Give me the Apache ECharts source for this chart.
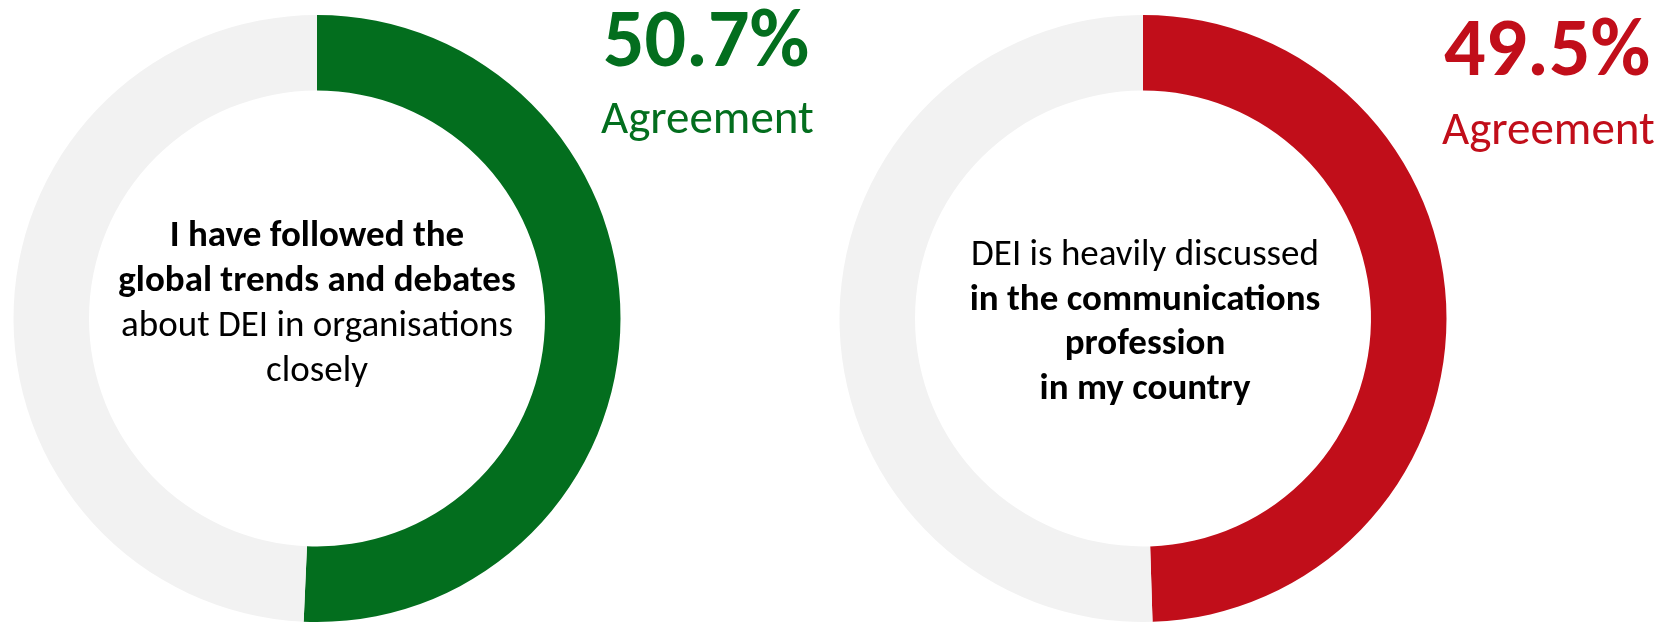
<!DOCTYPE html>
<html>
<head>
<meta charset="utf-8">
<script src="https://cdn.jsdelivr.net/npm/echarts@6/dist/echarts.min.js"></script>
<style>
  html, body { margin: 0; padding: 0; background: #fff; }
  #chart { width: 1674px; height: 623px; }
</style>
</head>
<body>
<div id="chart"></div>
<script>
// values
const agreement = [50.7, 49.5];
const ringColors = ['#036E1E', '#C10E1A'];
const restColor = '#F2F2F2';
const leftLines = ['I have followed the', 'global trends and debates', 'about DEI in organisations', 'closely'];
const leftBold = [true, true, false, false];
const rightLines = ['DEI is heavily discussed', 'in the communications', 'profession', 'in my country'];
const rightBold = [false, true, true, true];
const agreeLabel = 'Agreement';

const FONT = 'Carlito, Calibri, Lato, sans-serif';
const centers = [[317, 318.5], [1143, 318.5]];
const radius = [228, 303.5];

let chart = echarts.init(document.getElementById('chart'));

function donut(i) {
  return {
    type: 'pie',
    silent: true,
    animation: false,
    center: centers[i],
    radius: radius,
    startAngle: 90,
    clockwise: true,
    label: { show: false },
    labelLine: { show: false },
    emphasis: { disabled: true },
    itemStyle: { borderWidth: 0 },
    data: [
      { value: agreement[i], name: 'Agree', itemStyle: { color: ringColors[i] } },
      { value: +(100 - agreement[i]).toFixed(1), name: 'Other', itemStyle: { color: restColor } }
    ]
  };
}

// centre captions, one text per line
function caption(lines, bold, cx, firstY, step) {
  return lines.map((t, k) => ({
    type: 'text',
    silent: true,
    style: {
      text: t,
      x: cx,
      y: firstY + k * step,
      align: 'center',
      verticalAlign: 'middle',
      fill: '#000',
      font: (bold[k] ? 'bold ' : '') + '37px ' + FONT
    }
  }));
}

function bigNumber(i, x, yNum, yLab) {
  return [
    {
      type: 'text', silent: true,
      style: {
        text: agreement[i].toFixed(1) + '%', x: x, y: yNum,
        align: 'left', verticalAlign: 'middle',
        fill: ringColors[i], font: 'bold 82px ' + FONT
      }
    },
    {
      type: 'text', silent: true,
      style: {
        text: agreeLabel, x: x - 2, y: yLab,
        align: 'left', verticalAlign: 'middle',
        fill: ringColors[i], font: '47px ' + FONT
      }
    }
  ];
}

chart.setOption({
  animation: false,
  series: [donut(0), donut(1)],
  graphic: [].concat(
    caption(leftLines, leftBold, 317, 237, 45),
    caption(rightLines, rightBold, 1145, 256, 44.5),
    bigNumber(0, 603, 45, 121),
    bigNumber(1, 1444, 54, 132)
  )
});

window.onresize = function () {
  chart.resize();
};
</script>
</body>
</html>
